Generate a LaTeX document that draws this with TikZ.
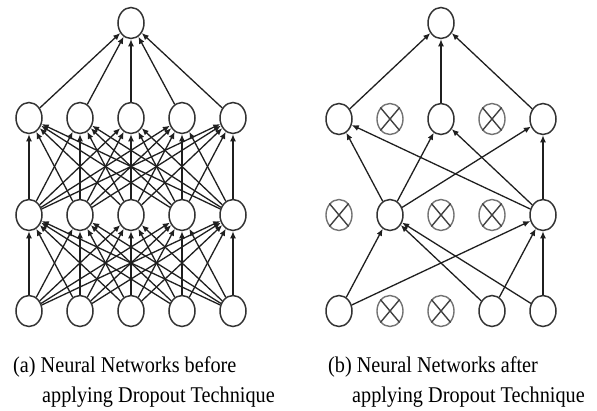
\documentclass[tikz,border=0pt]{standalone}
\usepackage{fontspec}
\setmainfont{Liberation Serif}
\usetikzlibrary{arrows.meta,shapes.geometric}
\begin{document}
\begin{tikzpicture}[x=1pt,y=-1pt,
  neuron/.style={draw=black!80, line width=1.5pt, ellipse, minimum width=26pt, minimum height=31pt, inner sep=0pt},
  drop/.style={draw=black!55, line width=1.4pt, ellipse, minimum width=26pt, minimum height=31pt, inner sep=0pt},
  crossline/.style={draw=black!75, line width=1.4pt},
  conn/.style={draw=black!88, line width=1.3pt, -{Latex[length=7pt,width=6pt]}},
  captext/.style={anchor=base west, inner sep=0pt, font=\fontsize{22.5}{26}\selectfont}]
\useasboundingbox (0,0) rectangle (597,410);
% ---------- (a) full network ----------
\node[neuron] (aT) at (131,23) {};
\foreach \i/\x in {1/29,2/80,3/131,4/182,5/233} {
  \node[neuron] (aH\i) at (\x,118) {};
  \node[neuron] (aG\i) at (\x,215) {};
  \node[neuron] (aI\i) at (\x,311) {};
}
\foreach \i in {1,...,5} {
  \draw[conn] (aH\i) -- (aT);
  \foreach \j in {1,...,5} {
    \draw[conn] (aG\i) -- (aH\j);
    \draw[conn] (aI\i) -- (aG\j);
  }
}
% ---------- (b) thinned network ----------
\node[neuron] (bT) at (441,23) {};
\node[neuron] (bH1) at (339,119) {};
\node[drop]   (bH2) at (390,119) {};
\node[neuron] (bH3) at (441,119) {};
\node[drop]   (bH4) at (492,119) {};
\node[neuron] (bH5) at (543,119) {};
\node[drop]   (bG1) at (339,215) {};
\node[neuron] (bG2) at (390,215) {};
\node[drop]   (bG3) at (441,215) {};
\node[drop]   (bG4) at (492,215) {};
\node[neuron] (bG5) at (543,215) {};
\node[neuron] (bI1) at (339,311) {};
\node[drop]   (bI2) at (390,311) {};
\node[drop]   (bI3) at (441,311) {};
\node[neuron] (bI4) at (492,311) {};
\node[neuron] (bI5) at (543,311) {};
\foreach \n in {bH2,bH4,bG1,bG3,bG4,bI2,bI3} {
  \draw[crossline] (\n.130) -- (\n.-50) (\n.50) -- (\n.-130);
}
\foreach \n in {bH1,bH3,bH5} {
  \draw[conn] (\n) -- (bT);
  \draw[conn] (bG2) -- (\n);
  \draw[conn] (bG5) -- (\n);
}
\foreach \n in {bI1,bI4,bI5} {
  \draw[conn] (\n) -- (bG2);
  \draw[conn] (\n) -- (bG5);
}
% ---------- captions ----------
\node[captext] (capa1) at (13,372) {\scalebox{0.9}[1]{(a) Neural Networks before}};
\node[captext] (capa2) at (42,402) {\scalebox{0.9}[1]{applying Dropout Technique}};
\node[captext] (capb1) at (328,372) {\scalebox{0.9}[1]{(b) Neural Networks after}};
\node[captext] (capb2) at (352,402) {\scalebox{0.9}[1]{applying Dropout Technique}};
\end{tikzpicture}
\end{document}
